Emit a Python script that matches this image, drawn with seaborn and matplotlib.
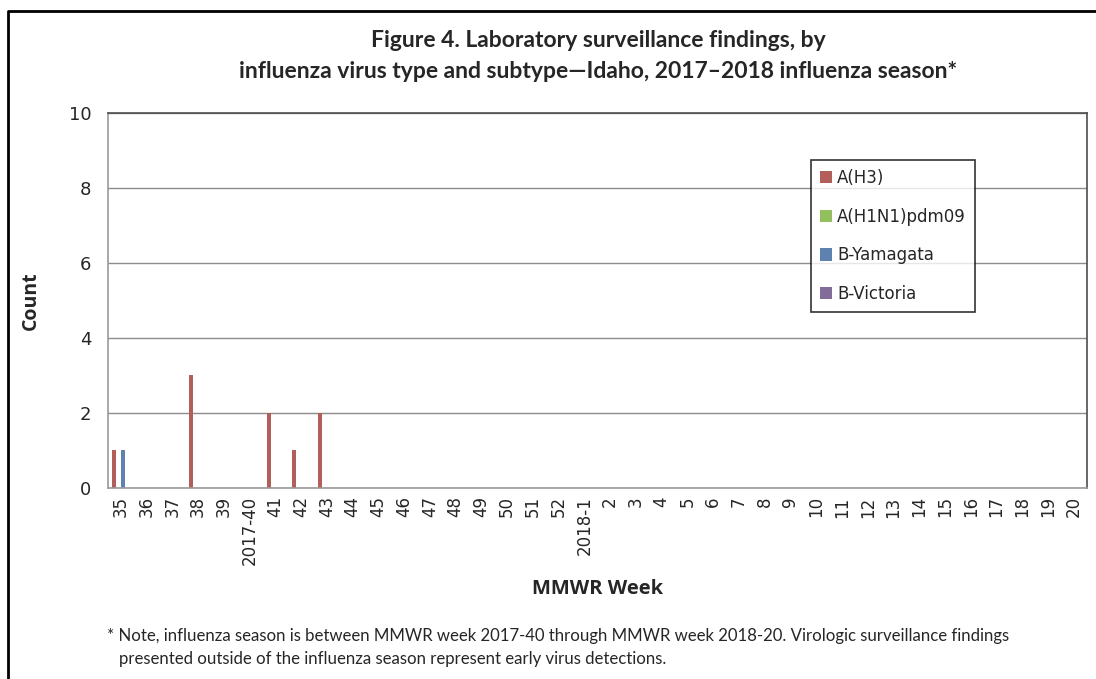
import seaborn as sns
import matplotlib.pyplot as plt
import matplotlib.lines as mlines
import numpy as np
import pandas as pd

# data
weeks = ['35', '36', '37', '38', '39', '2017-40', '41', '42', '43', '44', '45', '46',
         '47', '48', '49', '50', '51', '52', '2018-1', '2', '3', '4', '5', '6', '7',
         '8', '9', '10', '11', '12', '13', '14', '15', '16', '17', '18', '19', '20']
a_h3 = [1, 0, 0, 3, 0, 0, 2, 1, 2] + [0] * 29
a_h1n1 = [0] * 38
b_yamagata = [1] + [0] * 37
b_victoria = [0] * 38

series = ['A(H3)', 'A(H1N1)pdm09', 'B-Yamagata', 'B-Victoria']
colors = ['#C0504D', '#92D050', '#4F81BD', '#8064A2']

df = pd.DataFrame({
    'week': weeks * 4,
    'count': a_h3 + a_h1n1 + b_yamagata + b_victoria,
    'type': np.repeat(series, len(weeks)),
})

sns.set_style('white')
plt.rcParams['font.family'] = ['DejaVu Sans']

fig = plt.figure(figsize=(10.96, 6.79), dpi=100)
ax = fig.add_axes([0.0985, 0.2813, 0.893, 0.5523])

sns.barplot(data=df, x='week', y='count', hue='type', order=weeks, hue_order=series,
            palette=colors, width=0.7, gap=0.1, linewidth=0, ax=ax)

ax.set_ylim(0, 10)
ax.set_xlim(-0.5, len(weeks) - 0.5)
ax.set_yticks(range(0, 11, 2))
ax.yaxis.grid(True, color='#8c8c8c', linewidth=1)
ax.set_axisbelow(True)

# category labels at centres, tick marks between categories (excel style)
ax.set_xticks(range(len(weeks)))
ax.set_xticklabels(weeks, rotation=90, fontsize=12, color='#262626')
ax.set_xticks(np.arange(-0.5, len(weeks), 1), minor=True)
ax.tick_params(axis='x', which='major', length=0, pad=6)
ax.tick_params(axis='x', which='minor', length=5, color='#8c8c8c', width=1)
ax.tick_params(axis='y', length=6, color='#8c8c8c', labelsize=13, labelcolor='#262626', pad=6)

for side in ['left', 'bottom']:
    ax.spines[side].set_color('#9a9a9a')
for side in ['top', 'right']:
    ax.spines[side].set_color('#4d4d4d')
for s in ax.spines.values():
    s.set_linewidth(1.2)

ax.set_xlabel('MMWR Week', fontsize=14.5, fontweight='bold', family='Open Sans', labelpad=10)
ax.set_ylabel('Count', fontsize=14, fontweight='bold', family='Open Sans', labelpad=20)

leg = ax.legend(loc='upper left', bbox_to_anchor=(0.718, 0.875), frameon=True, fancybox=False,
                edgecolor='black', fontsize=12, handlelength=0.75, handleheight=0.75,
                handletextpad=0.3, labelspacing=1.24, borderpad=0.55, borderaxespad=0)
leg.get_frame().set_linewidth(1.2)

fig.text(0.546, 0.94, 'Figure 4. Laboratory surveillance findings, by', ha='center', va='center',
         fontsize=16.5, fontweight='bold', family='Lato')
fig.text(0.546, 0.895, 'influenza virus type and subtype\u2014Idaho, 2017\u20132018 influenza season*',
         ha='center', va='center', fontsize=16.5, fontweight='bold', family='Lato')

fig.text(0.098, 0.064, '* Note, influenza season is between MMWR week 2017-40 through MMWR week 2018-20. '
         'Virologic surveillance findings', ha='left', va='center', fontsize=12.1, family='Lato')
fig.text(0.109, 0.029, 'presented outside of the influenza season represent early virus detections.',
         ha='left', va='center', fontsize=12.1, family='Lato')

# outer frame
fig.add_artist(mlines.Line2D([0.0073, 0.0073, 1.0], [0.0, 0.984, 0.984], color='black',
                             linewidth=2, transform=fig.transFigure))

plt.savefig('out.png', dpi=100)
